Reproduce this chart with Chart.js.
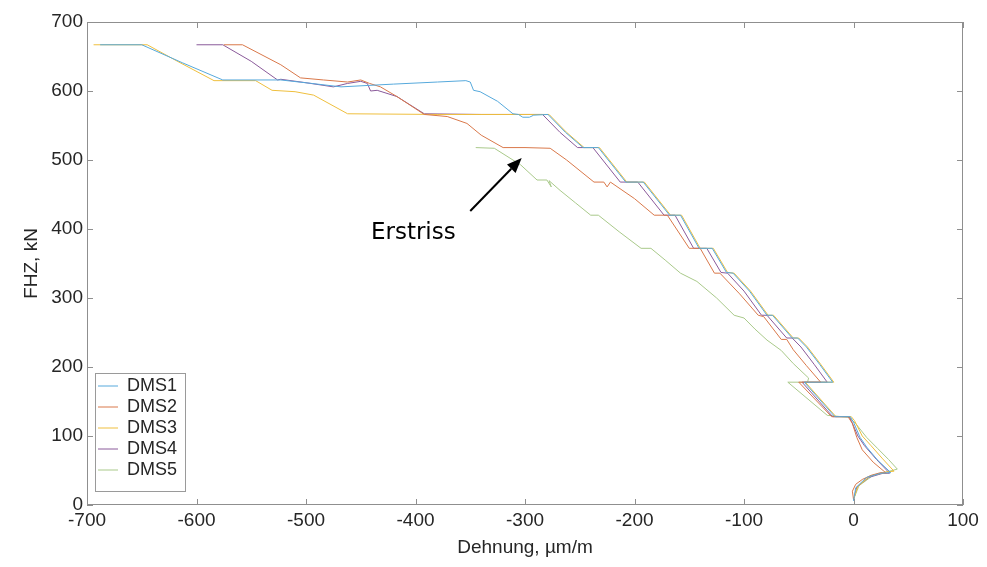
<!DOCTYPE html>
<html>
<head>
<meta charset="utf-8">
<script src="https://cdn.jsdelivr.net/npm/chart.js@4.4.0/dist/chart.umd.min.js"></script>
<style>
html,body{margin:0;padding:0;background:#ffffff;}
#wrap{width:987px;height:567px;}
</style>
</head>
<body>
<div id="wrap"><canvas id="c" width="987" height="567"></canvas></div>
<script>
// ---------- data (strain in µm/m, load in kN) ----------
const xTicks = [-700, -600, -500, -400, -300, -200, -100, 0, 100];
const yTicks = [0, 100, 200, 300, 400, 500, 600, 700];
const seriesNames = ['DMS1', 'DMS2', 'DMS3', 'DMS4', 'DMS5'];

const dms1Points = [[0,6],[2,25],[12,40],[25,46],[34,47],[22,65],[12,84],[6,98],[0,120],[-3,128],[-17,128],[-45,178],[-19,178],
  [-31,204],[-43,229],[-51,242],[-56,242],[-74,275],[-79,275],[-95,310],[-110,336],[-116,337],[-129,372],[-141,372],
  [-158,420],[-168,420],[-192,468],[-208,468],[-233,518],[-247,518],[-263,540],[-279,566],[-292,565],[-296,562],[-302,562],
  [-306,566],[-311,567],[-325,585],[-341,599],[-347,601],[-350,613],[-354,615],[-380,613],[-420,610],[-468,606],[-495,611],
  [-523,616],[-576,616],[-613,641],[-650,667],[-688,667]];

const dms2Points = [[0,8],[-1,20],[2,30],[8,37],[16,43],[25,47],[30,46],[18,62],[8,80],[3,98],[-1,118],[-5,128],[-20,128],
  [-50,178],[-30,178],[-43,202],[-55,225],[-61,240],[-66,240],[-82,273],[-87,275],[-104,306],[-122,336],[-127,336],
  [-140,372],[-150,372],[-170,420],[-182,420],[-200,444],[-222,468],[-225,461],[-228,468],[-237,468],[-262,500],[-277,517],
  [-300,518],[-320,518],[-340,536],[-353,553],[-371,563],[-392,566],[-417,592],[-432,606],[-442,611],[-450,616],[-462,613],
  [-484,616],[-505,619],[-523,638],[-558,667],[-575,667]];

const dms3Points = [[0,8],[4,27],[15,42],[30,48],[37,49],[26,68],[16,86],[8,100],[1,122],[-2,128],[-16,128],[-44,178],[-18,178],
  [-30,204],[-42,229],[-50,242],[-55,242],[-73,275],[-78,275],[-94,310],[-109,336],[-115,337],[-128,372],[-140,372],
  [-157,420],[-167,420],[-191,468],[-207,468],[-232,518],[-246,518],[-262,540],[-278,566],[-380,566],[-462,567],
  [-493,594],[-510,599],[-531,601],[-546,615],[-584,615],[-615,641],[-645,667],[-694,667]];

const dms4Points = [[0,7],[3,26],[14,40],[27,46],[33,46],[21,66],[10,86],[4,100],[-2,122],[-4,128],[-19,128],[-47,178],[-24,178],
  [-36,204],[-48,229],[-56,242],[-61,242],[-79,275],[-84,275],[-100,310],[-115,336],[-121,337],[-134,372],[-146,372],
  [-163,420],[-173,420],[-197,468],[-213,468],[-238,518],[-252,518],[-268,540],[-284,566],[-340,566],[-392,567],
  [-405,580],[-417,592],[-435,601],[-441,600],[-444,611],[-450,614],[-462,611],[-475,606],[-500,612],[-523,617],
  [-526,616],[-550,643],[-576,667],[-600,667]];

const dms5Points = [[0,8],[5,28],[18,43],[33,49],[40,52],[32,66],[22,82],[12,98],[2,118],[-4,127],[-24,130],[-60,178],[-42,178],
  [-41,184],[-55,205],[-66,224],[-79,239],[-90,255],[-100,271],[-109,275],[-125,300],[-143,324],[-158,336],[-172,355],
  [-185,372],[-194,372],[-214,396],[-233,420],[-240,420],[-254,438],[-268,456],[-278,470],[-276,461],[-280,471],
  [-289,471],[-304,493],[-328,517],[-345,518]];

const annotationText = 'Erstriss';
const annotationTextAt = [-402, 394];
const arrowFrom = [-350, 426];
const arrowTo = [-303, 503];

// ---------- styling ----------
const seriesColors = ['#56a9dc', '#d9784a', '#efbf3e', '#8a5a9a', '#a9c98a'];
const allPoints = [dms1Points, dms2Points, dms3Points, dms4Points, dms5Points];
const FONT = "'Liberation Sans', Arial, Helvetica, sans-serif";
const TXT = '#262626';

const datasets = allPoints.map((pts, i) => ({
  label: seriesNames[i],
  data: pts.map(p => ({x: p[0], y: p[1]})),
  showLine: true,
  borderColor: seriesColors[i],
  backgroundColor: seriesColors[i],
  borderWidth: 1,
  pointRadius: 0,
  pointHoverRadius: 0,
  tension: 0,
  fill: false
}));

const framePlugin = {
  id: 'frame',
  afterLayout(chart) {
    const lg = chart.legend;
    const a = chart.chartArea;
    if (lg) {
      lg.left = a.left + 8;
      lg.top = a.top;
      lg.bottom = a.bottom - 23;
    }
  },
  afterDatasetsDraw(chart) {
    const {ctx, chartArea: a, scales: {x, y}} = chart;
    ctx.save();
    ctx.strokeStyle = '#8f8f8f';
    ctx.lineWidth = 1;
    ctx.strokeRect(a.left + 0.5, a.top + 0.5, a.right - a.left - 1, a.bottom - a.top - 1);
    ctx.beginPath();
    for (const v of xTicks) {
      const px = Math.round(x.getPixelForValue(v)) + 0.5;
      ctx.moveTo(px, a.bottom); ctx.lineTo(px, a.bottom - 6);
      ctx.moveTo(px, a.top); ctx.lineTo(px, a.top + 6);
    }
    for (const v of yTicks) {
      const py = Math.round(y.getPixelForValue(v)) + 0.5;
      ctx.moveTo(a.left, py); ctx.lineTo(a.left + 6, py);
      ctx.moveTo(a.right, py); ctx.lineTo(a.right - 6, py);
    }
    ctx.stroke();

    // annotation
    const tx = x.getPixelForValue(annotationTextAt[0]);
    const ty = y.getPixelForValue(annotationTextAt[1]);
    ctx.fillStyle = '#000000';
    ctx.font = "23px 'DejaVu Sans', Verdana, sans-serif";
    ctx.textAlign = 'center';
    ctx.textBaseline = 'middle';
    ctx.fillText(annotationText, tx, ty);

    const x1 = x.getPixelForValue(arrowFrom[0]), y1 = y.getPixelForValue(arrowFrom[1]);
    const x2 = x.getPixelForValue(arrowTo[0]), y2 = y.getPixelForValue(arrowTo[1]);
    const ang = Math.atan2(y2 - y1, x2 - x1);
    const hl = 15, hw = 6;
    const bx = x2 - hl * Math.cos(ang), by = y2 - hl * Math.sin(ang);
    ctx.strokeStyle = '#000000';
    ctx.lineWidth = 2;
    ctx.beginPath();
    ctx.moveTo(x1, y1); ctx.lineTo(bx, by);
    ctx.stroke();
    ctx.beginPath();
    ctx.moveTo(x2, y2);
    ctx.lineTo(bx + hw * Math.sin(ang), by - hw * Math.cos(ang));
    ctx.lineTo(bx - hw * Math.sin(ang), by + hw * Math.cos(ang));
    ctx.closePath();
    ctx.fillStyle = '#000000';
    ctx.fill();
    ctx.restore();
  },
  afterDraw(chart) {
    const lg = chart.legend;
    if (!lg || !lg.legendHitBoxes || !lg.legendHitBoxes.length) return;
    const hb = lg.legendHitBoxes;
    const first = hb[0], last = hb[hb.length - 1];
    const ctx = chart.ctx;
    ctx.save();
    ctx.strokeStyle = '#9a9a9a';
    ctx.lineWidth = 1;
    const left = Math.round(lg.left) + 0.5;
    const top = Math.round(first.top - 4) + 0.5;
    const right = Math.round(Math.max(...hb.map(h => h.left + h.width)) + 8) + 0.5;
    const bottom = Math.round(last.top + last.height + 12) + 0.5;
    ctx.strokeRect(left, top, right - left, bottom - top);
    ctx.restore();
  }
};

new Chart(document.getElementById('c'), {
  type: 'scatter',
  data: {datasets},
  options: {
    responsive: false,
    animation: false,
    devicePixelRatio: 1,
    layout: {padding: {top: 22, right: 24, left: 0, bottom: 0}},
    plugins: {
      tooltip: {enabled: false},
      legend: {
        position: 'chartArea',
        align: 'end',
        labels: {
          usePointStyle: true,
          pointStyle: 'line',
          pointStyleWidth: 20,
          padding: 3,
          color: TXT,
          font: {family: FONT, size: 18}
        }
      }
    },
    scales: {
      x: {
        type: 'linear',
        min: -700, max: 100,
        afterBuildTicks: s => { s.ticks = xTicks.map(v => ({value: v})); },
        afterFit: s => { s.height = 62; },
        grid: {display: false, drawTicks: false},
        border: {display: false},
        ticks: {color: TXT, padding: 4, font: {family: FONT, size: 19}, maxRotation: 0, autoSkip: false},
        title: {display: true, text: 'Dehnung, µm/m', color: TXT, font: {family: FONT, size: 19}, padding: {top: 0, bottom: 8}}
      },
      y: {
        type: 'linear',
        min: 0, max: 700,
        afterBuildTicks: s => { s.ticks = yTicks.map(v => ({value: v})); },
        afterFit: s => { s.width = 87; },
        grid: {display: false, drawTicks: false},
        border: {display: false},
        ticks: {color: TXT, padding: 4, font: {family: FONT, size: 19}, autoSkip: false},
        title: {display: true, text: 'FHZ, kN', color: TXT, font: {family: FONT, size: 19}, padding: {top: 20, bottom: 0}}
      }
    }
  },
  plugins: [framePlugin]
});
</script>
</body>
</html>
